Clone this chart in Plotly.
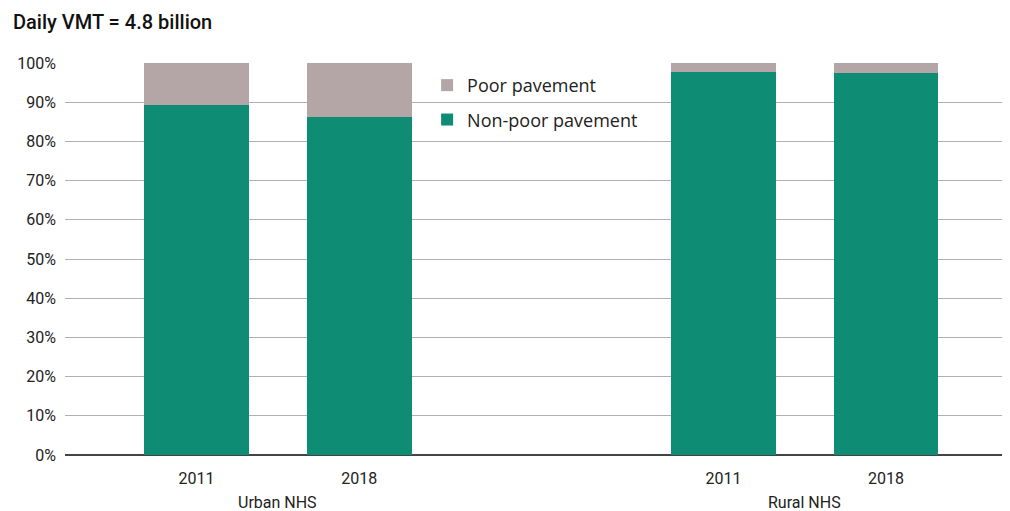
import plotly.graph_objects as go

groups = ["Urban NHS", "Urban NHS", "Rural NHS", "Rural NHS"]
years = ["2011", "2018", "2011", "2018"]
non_poor = [89.2, 86.2, 97.6, 97.4]
poor = [round(100 - v, 1) for v in non_poor]
y_ticks = [0, 10, 20, 30, 40, 50, 60, 70, 80, 90, 100]

# bar slot positions (gap between the two groups)
xpos = [0, 1, 3.24, 4.24]

font_title = "Roboto, Liberation Sans, sans-serif"
font_tick = "Roboto, Liberation Sans, sans-serif"
font_legend = "Open Sans, Noto Sans, sans-serif"

fig = go.Figure()
fig.add_trace(go.Bar(x=xpos, y=non_poor, name="Non-poor pavement",
                     legendgroup="b", legendrank=2,
                     marker=dict(color="#0e8c74", line=dict(width=0)),
                     width=0.645))
fig.add_trace(go.Bar(x=xpos, y=poor, name="Poor pavement",
                     legendgroup="a", legendrank=1,
                     marker=dict(color="#b4a6a7", line=dict(width=0)),
                     width=0.645))

fig.update_layout(
    barmode="stack",
    width=1002, height=503,
    margin=dict(l=57, r=2, t=55, b=56),
    plot_bgcolor="white", paper_bgcolor="white",
    font=dict(family=font_tick, size=16, color="#222"),
    showlegend=True,
    legend=dict(x=0.384, y=0.99, xanchor="left", yanchor="top",
                font=dict(family=font_legend, size=18, color="#222"),
                bgcolor="rgba(0,0,0,0)", itemwidth=30, tracegroupgap=8),
    xaxis=dict(range=[-0.809, 4.99], tickvals=xpos, ticktext=years,
               showgrid=False, zeroline=False, showline=False,
               ticks="", ticklabelstandoff=12,
               tickfont=dict(family=font_tick, size=16, color="#222")),
    yaxis=dict(range=[0, 100], tickvals=y_ticks,
               ticktext=[f"{v}%" for v in y_ticks],
               showgrid=True, gridcolor="#b0b0b0", gridwidth=1,
               zeroline=True, zerolinecolor="#444", zerolinewidth=1.5,
               ticks="", ticklabelstandoff=8,
               tickfont=dict(family=font_tick, size=16, color="#222")),
    annotations=[
        dict(text="Daily VMT = 4.8 billion", xref="paper", yref="paper",
             x=-0.0573, y=1.105, xanchor="left", yanchor="middle",
             showarrow=False,
             font=dict(family=font_title, size=20, weight=500, color="#111")),
        dict(text=groups[0], xref="x", yref="paper", x=(xpos[0] + xpos[1]) / 2,
             y=-0.091, yanchor="top", showarrow=False,
             font=dict(family=font_tick, size=16, color="#222")),
        dict(text=groups[2], xref="x", yref="paper", x=(xpos[2] + xpos[3]) / 2,
             y=-0.091, yanchor="top", showarrow=False,
             font=dict(family=font_tick, size=16, color="#222")),
    ],
)

fig.write_html("out.html")
